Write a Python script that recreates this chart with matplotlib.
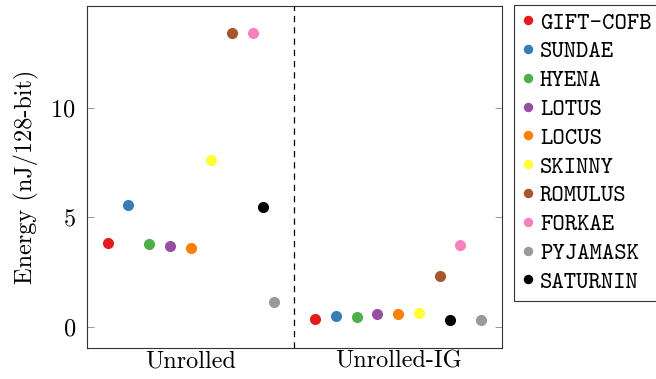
import matplotlib
matplotlib.use("Agg")
import matplotlib.pyplot as plt

plt.rcParams['font.family'] = ['cmr10', 'DejaVu Serif']
plt.rcParams['axes.formatter.use_mathtext'] = True

ciphers = ['GIFT-COFB', 'SUNDAE', 'HYENA', 'LOTUS', 'LOCUS',
           'SKINNY', 'ROMULUS', 'FORKAE', 'PYJAMASK', 'SATURNIN']
groups = ['Unrolled', 'Unrolled-IG']
energy_unrolled = [3.84, 5.57, 3.79, 3.70, 3.61, 7.63, 13.42, 13.42, 1.14, 5.48]
energy_unrolled_ig = [0.35, 0.50, 0.43, 0.58, 0.58, 0.61, 2.30, 3.74, 0.30, 0.30]
colors = ['#e41a1c', '#377eb8', '#4daf4a', '#984ea3', '#ff7f00',
          '#ffff33', '#a65628', '#f781bf', '#999999', '#000000']

# horizontal offsets of each cipher inside its group
offsets_unrolled = [-0.4, -0.3, -0.2, -0.1, 0.0, 0.1, 0.2, 0.3, 0.4, 0.35]
offsets_ig = [-0.4, -0.3, -0.2, -0.1, 0.0, 0.1, 0.2, 0.3, 0.4, 0.25]

fig = plt.figure(figsize=(6.56, 3.79), dpi=100)
ax = fig.add_axes([0.1326, 0.0818, 0.6326, 0.9022])

for i, name in enumerate(ciphers):
    ax.plot([0 + offsets_unrolled[i], 1 + offsets_ig[i]],
            [energy_unrolled[i], energy_unrolled_ig[i]],
            linestyle='none', marker='o', ms=8, mec='none',
            color=colors[i], label=name)

ax.axvline(0.5, color='black', linestyle=(0, (5, 4)), lw=0.9)

ax.set_xlim(-0.5, 1.5)
ax.set_ylim(-0.97, 14.66)
ax.set_xticks([0, 1])
ax.set_xticklabels(groups)
ax.set_yticks([0, 5, 10])
ax.tick_params(axis='x', length=0, labelsize=17.5, pad=2)
ax.tick_params(axis='y', direction='in', length=5, width=0.6, color='#888888',
               labelsize=17.5, right=True, pad=8)
ax.set_ylabel('Energy (nJ/128-bit)', fontsize=17.5, labelpad=8)
for s in ax.spines.values():
    s.set_color('#333333')
    s.set_linewidth(0.8)

leg = ax.legend(loc='upper left', bbox_to_anchor=(514 / 656, 1 - 5 / 379),
                bbox_transform=fig.transFigure, prop={'family': 'cmtt10', 'size': 17},
                fancybox=False, edgecolor='#333333', framealpha=1,
                handlelength=0.55, handletextpad=0.25, borderpad=0.3,
                labelspacing=0.265, markerscale=0.85, borderaxespad=0)
leg.get_frame().set_linewidth(0.8)

fig.savefig('out.png', dpi=100)
